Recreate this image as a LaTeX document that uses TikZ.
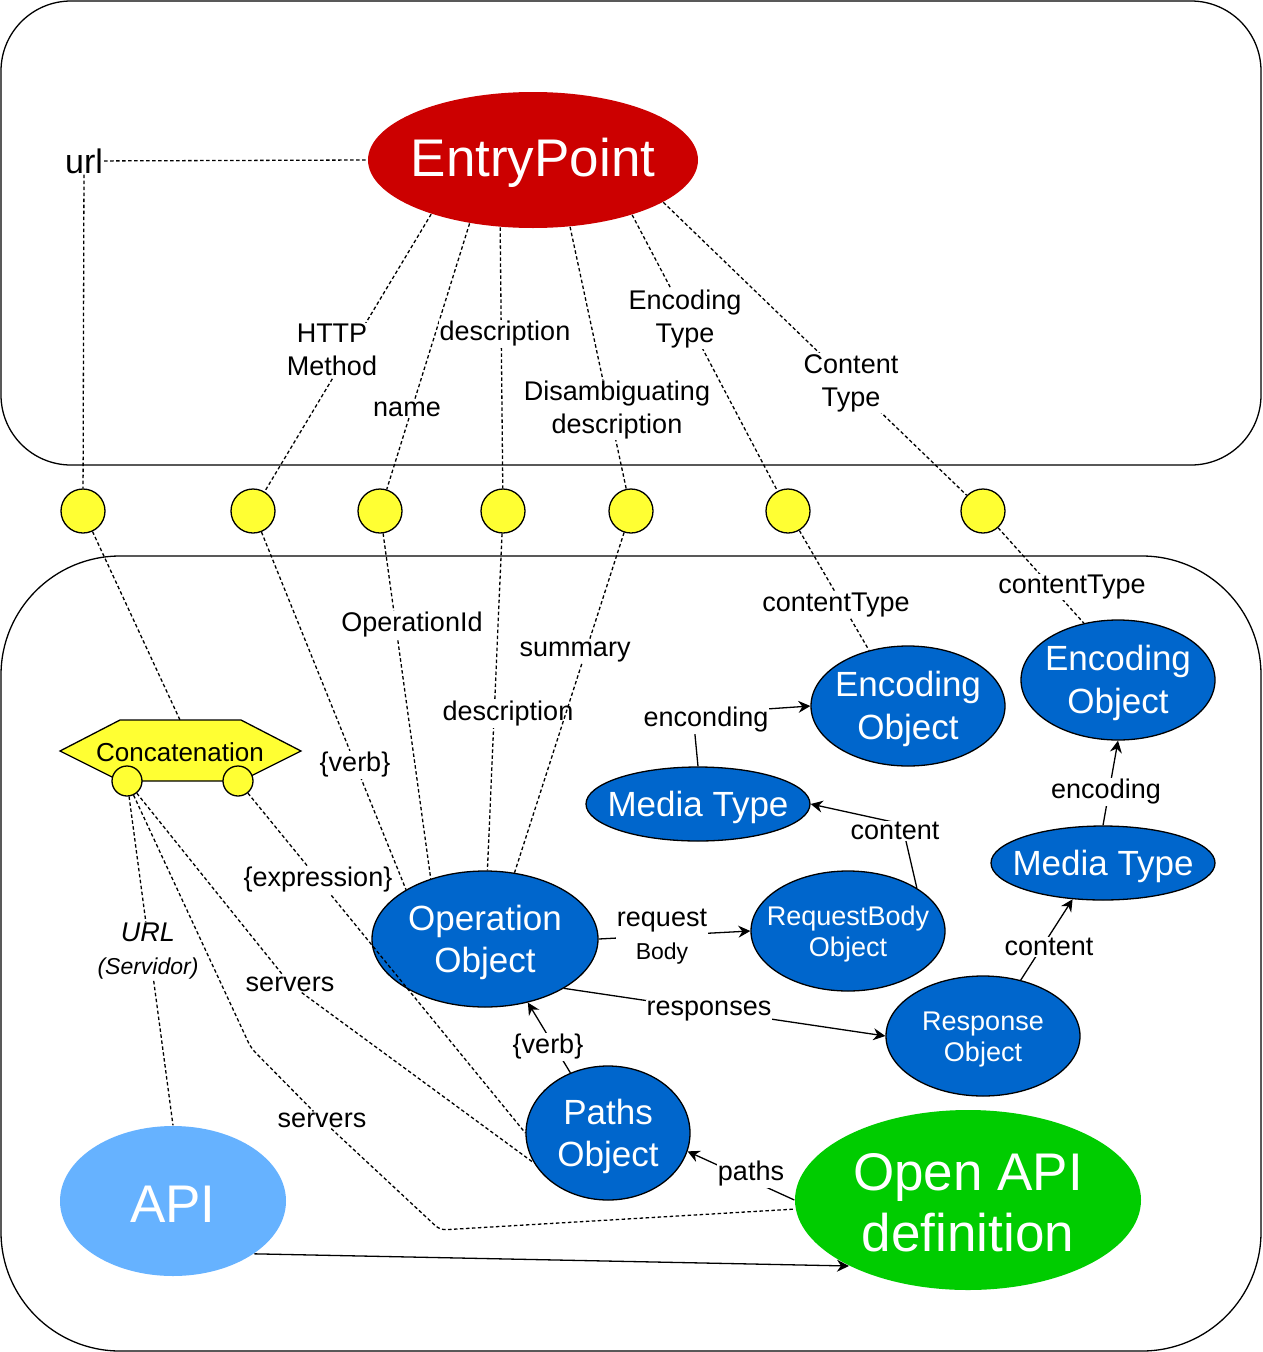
\documentclass[tikz,border=0pt]{standalone}
\usepackage{fontspec}
\setmainfont{Liberation Sans}
\usetikzlibrary{shapes.geometric,arrows.meta}
\definecolor{cred}{HTML}{CC0000}
\definecolor{cblue}{HTML}{0066CC}
\definecolor{cgreen}{HTML}{00CC00}
\definecolor{clblue}{HTML}{66B2FF}
\definecolor{cyel}{HTML}{FFFF33}
\newcommand{\fsz}[2]{\fontsize{#1}{#2}\selectfont}
\tikzset{
  dl/.style={draw=black, line width=1.3pt, dash pattern=on 3.5pt off 2.5pt},
  al/.style={draw=black, line width=1.3pt, -{Stealth[length=12pt,width=12pt,inset=4pt]}},
  lbl/.style={fill=white, inner sep=1pt, font={\fsz{27}{33}}, align=center, text=black, yshift=-3pt},
  ell/.style={ellipse, draw=black, line width=1.3pt, inner sep=0pt, fill=cblue},
  etxt/.style={text=white, align=center, inner sep=0pt, yshift=-3pt},
  yc/.style={circle, draw=black, line width=1.3pt, fill=cyel, minimum size=44pt, inner sep=0pt},
  sc/.style={circle, draw=black, line width=1.3pt, fill=cyel, minimum size=30pt, inner sep=0pt},
  box/.style={draw=black, line width=1.3pt, fill=white}
}
\begin{document}
\begin{tikzpicture}[x=1pt,y=-1pt]
\useasboundingbox (0,0) rectangle (1262,1352);
% containers
\draw[box, rounded corners=70pt] (1,1) rectangle (1261,465);
\draw[box, rounded corners=119pt] (1,556) rectangle (1261,1351);

% main nodes
\node[ell, draw=none, fill=cred, minimum width=330pt, minimum height=136pt,
  label={[etxt, font={\fsz{53}{62}}]center:EntryPoint}] (ep) at (533,160) {};
\node[inner sep=1pt, font={\fsz{34}{40}}] (url) at (84,161) {url};

\node[ell, minimum width=226pt, minimum height=136pt,
  label={[etxt, font={\fsz{35}{42}}]center:{Operation\\Object}}] (op) at (485,939) {};
\node[ell, minimum width=164pt, minimum height=134pt,
  label={[etxt, font={\fsz{35}{42}}]center:{Paths\\Object}}] (paths) at (608,1133) {};
\node[ell, minimum width=194pt, minimum height=120pt,
  label={[etxt, font={\fsz{35}{43}}]center:{Encoding\\Object}}] (eo1) at (908,706) {};
\node[ell, minimum width=194pt, minimum height=120pt,
  label={[etxt, font={\fsz{35}{43}}]center:{Encoding\\Object}}] (eo2) at (1118,680) {};
\node[ell, minimum width=224pt, minimum height=74pt,
  label={[etxt, font={\fsz{35}{42}}]center:{Media Type}}] (mt1) at (698,804) {};
\node[ell, minimum width=224pt, minimum height=74pt,
  label={[etxt, font={\fsz{35}{42}}]center:{Media Type}}] (mt2) at (1103,863) {};
\node[ell, minimum width=194pt, minimum height=120pt,
  label={[etxt, font={\fsz{27}{31}}]center:{RequestBody\\Object}}] (rb) at (848,931) {};
\node[ell, minimum width=194pt, minimum height=120pt,
  label={[etxt, font={\fsz{27}{31}}]center:{Response\\Object}}] (resp) at (983,1036) {};
\node[ell, draw=none, fill=cgreen, minimum width=346pt, minimum height=180pt,
  label={[etxt, font={\fsz{53}{61}}]center:{Open API\\definition}}] (oad) at (968,1200) {};
\node[ell, draw=none, fill=clblue, minimum width=226pt, minimum height=150pt,
  label={[etxt, font={\fsz{53}{61}}]center:API}] (api) at (173,1201) {};

% yellow connector circles
\node[yc] (c1) at (83,511) {};
\node[yc] (c2) at (253,511) {};
\node[yc] (c3) at (380,511) {};
\node[yc] (c4) at (503,511) {};
\node[yc] (c5) at (631,511) {};
\node[yc] (c6) at (788,511) {};
\node[yc] (c7) at (983,511) {};

% concatenation hexagon
\draw[fill=cyel, draw=black, line width=1.3pt] (60,751) -- (120,720) -- (241,720) -- (301,751) -- (241,781) -- (120,781) -- cycle;
\coordinate (hextop) at (180,720);
\node[inner sep=0pt, font={\fsz{26}{30}}, yshift=-2pt] (concat) at (180,750) {Concatenation};
\node[sc] (sc1) at (127,781) {};
\node[sc] (sc2) at (238,781) {};

% top dashed connectors
\draw[dl] (url) -- (ep.west);
\draw[dl] (url) -- (c1);
\draw[dl] (ep.208) -- (c2);
\node[lbl] (lhttp) at (332,347) {HTTP\\Method};
\draw[dl] (ep.225) -- (c3);
\node[lbl] (lname) at (407,406) {name};
\draw[dl] (ep.244) -- (c4);
\node[lbl] (ldesc) at (505,331) {description};
\draw[dl] (ep.299) -- (c5);
\node[lbl] (ldis) at (617,407) {Disambiguating\\description};
\draw[dl] (ep.331) -- (c6);
\node[lbl] (lenct) at (685,316) {Encoding\\Type};
\draw[dl] (ep.342) -- (c7);
\node[lbl] (lct) at (851,380) {Content\\Type};

% bottom dashed connectors
\draw[dl] (c1) -- (hextop);
\draw[dl] (c2) -- (op.148);
\node[lbl] (lverb) at (355,762) {\{verb\}};
\draw[dl] (c3) -- (op.132);
\node[lbl] (lopid) at (412,622) {OperationId};
\draw[dl] (c4) -- (op.88);
\node[lbl] (ldesc2) at (508,711) {description};
\draw[dl] (c5) -- (op.66);
\node[lbl] (lsum) at (575,649) {summary};
\draw[dl] (c6) -- (eo1.125);
\node[lbl] (lct1) at (836,602) {contentType};
\draw[dl] (c7) -- (eo2.121);
\node[lbl] (lct2) at (1072,584) {contentType};

% solid arrows
\draw[al] (op.east) -- (rb.west);
\node[lbl] (lreq) at (662,934) {request\\{\fsz{23}{28}Body}};
\draw[al] (op.-32) -- (resp.west);
\node[lbl] (lresp) at (709,1008) {responses};
\coordinate (cbend) at (902,824);
\draw[al] (rb.32) -- (cbend) -- (mt1.east);
\node[lbl] (lcont1) at (895,828) {content};
\coordinate (encbend) at (693,714);
\draw[al] (mt1.north) -- (encbend) -- (eo1.west);
\node[lbl] (lenc1) at (706,717) {enconding};
\draw[al] (resp.56) -- (mt2.230);
\node[lbl] (lcont2) at (1049,944) {content};
\draw[al] (mt2.north) -- (eo2.south);
\node[lbl] (lenc2) at (1106,789) {encoding};
\draw[al] (paths.122) -- (op.-56);
\node[lbl] (lverb2) at (548,1044) {\{verb\}};
\draw[al] (oad.west) -- (paths.-13);
\node[lbl] (lpaths) at (751,1171) {paths};
\draw[al] (api.-33) -- (oad.209);

% dashed from concatenation
\draw[dl] (sc1) -- (api.north);
\node[lbl, font={\fsz{27}{33}\itshape}] (lurl) at (148,948) {URL\\{\fsz{23}{28}\itshape(Servidor)}};
\node[lbl] (lsrv1) at (290,981) {servers};
\draw[dl] (sc1) -- (lsrv1) -- (paths.202);
\draw[dl] (sc2) -- (paths.west);
\node[lbl] (lexpr) at (318,877) {\{expression\}};
\coordinate (sb1) at (251,1048);
\coordinate (sb2) at (440,1230);
\node[lbl] (lsrv2) at (322,1117) {servers};
\draw[dl, rounded corners=6pt] (sc1) -- (sb1) -- (lsrv2) -- (sb2) -- (oad.183);
\end{tikzpicture}
\end{document}
